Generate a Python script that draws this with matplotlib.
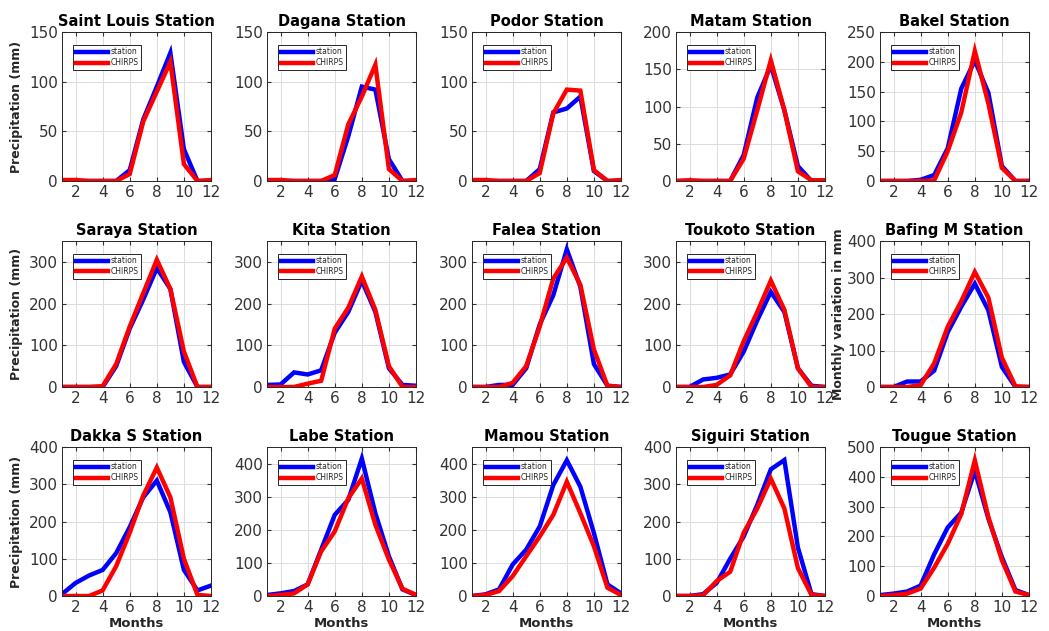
import numpy as np
import matplotlib.pyplot as plt

months = np.arange(1, 13)

titles = ["Saint Louis Station", "Dagana Station", "Podor Station", "Matam Station", "Bakel Station",
          "Saraya Station", "Kita Station", "Falea Station", "Toukoto Station", "Bafing M Station",
          "Dakka S Station", "Labe Station", "Mamou Station", "Siguiri Station", "Tougue Station"]

ymax = [150, 150, 150, 200, 250,
        350, 350, 350, 350, 400,
        400, 450, 450, 400, 500]

station = [
    [0, 0, 0, 0, 0, 11, 62, 95, 129, 32, 0, 0],
    [0, 0, 0, 0, 0, 2, 45, 95, 92, 22, 0, 0],
    [0, 0, 0, 0, 0, 12, 69, 73, 85, 10, 0, 0],
    [0, 0, 0, 0, 0, 35, 112, 155, 95, 20, 0, 0],
    [0, 0, 0, 2, 10, 55, 155, 202, 148, 25, 0, 0],
    [0, 0, 0, 0, 50, 140, 210, 285, 235, 60, 0, 0],
    [5, 6, 35, 30, 40, 130, 180, 255, 180, 45, 5, 3],
    [0, 0, 5, 5, 45, 150, 220, 330, 240, 55, 3, 0],
    [0, 0, 18, 22, 30, 85, 160, 228, 180, 45, 3, 0],
    [0, 0, 15, 15, 45, 150, 220, 283, 210, 55, 0, 0],
    [5, 35, 55, 70, 115, 185, 265, 310, 225, 70, 15, 28],
    [3, 8, 15, 35, 140, 245, 290, 415, 250, 120, 20, 3],
    [0, 5, 20, 95, 140, 210, 335, 410, 330, 190, 35, 8],
    [0, 0, 5, 35, 100, 160, 245, 340, 365, 130, 5, 0],
    [3, 8, 15, 35, 140, 230, 280, 420, 260, 130, 20, 3],
]

chirps = [
    [1, 1, 0, 0, 0, 7, 60, 90, 120, 17, 0, 1],
    [1, 1, 0, 0, 0, 6, 57, 85, 117, 12, 0, 1],
    [1, 1, 0, 0, 0, 8, 68, 92, 91, 11, 0, 1],
    [0, 1, 0, 0, 0, 30, 95, 162, 95, 13, 1, 1],
    [0, 0, 0, 0, 1, 50, 115, 218, 130, 22, 0, 0],
    [0, 0, 0, 2, 55, 145, 225, 305, 235, 85, 0, 0],
    [0, 0, 0, 8, 15, 140, 190, 265, 185, 50, 0, 0],
    [0, 0, 0, 10, 50, 145, 260, 310, 245, 90, 3, 0],
    [0, 0, 0, 5, 28, 110, 180, 255, 185, 45, 0, 0],
    [0, 0, 0, 5, 65, 165, 235, 315, 245, 80, 2, 0],
    [0, 0, 0, 15, 80, 170, 270, 345, 265, 100, 3, 0],
    [0, 3, 8, 35, 135, 195, 295, 355, 215, 110, 22, 3],
    [0, 3, 15, 60, 120, 180, 245, 345, 250, 150, 25, 3],
    [0, 0, 2, 40, 65, 170, 235, 315, 235, 75, 3, 0],
    [0, 3, 8, 25, 95, 175, 275, 455, 265, 120, 15, 3],
]

col_left = [62, 267, 472, 676, 880]
row_bottom = [181, 387, 596]
row_height = [149, 146, 149]
W, H = 1049, 631
dark = "#262626"

fig = plt.figure(figsize=(W / 100, H / 100), dpi=100)

for i, name in enumerate(titles):
    r, c = divmod(i, 5)
    ax = fig.add_axes([col_left[c] / W, 1 - row_bottom[r] / H, 149 / W, row_height[r] / H])
    ax.plot(months, station[i], color="#0000ff", lw=3.2, label="station", solid_joinstyle="miter")
    ax.plot(months, chirps[i], color="#ff0000", lw=3.2, label="CHIRPS", solid_joinstyle="miter")
    ax.set_xlim(1, 12)
    ax.set_ylim(0, ymax[i])
    ax.set_xticks([2, 4, 6, 8, 10, 12])
    step = 50 if ymax[i] <= 250 else 100
    ax.set_yticks(np.arange(0, ymax[i] + 1, step))
    ax.grid(True, color="#dcdcdc", lw=0.7)
    ax.set_axisbelow(True)
    ax.tick_params(direction="in", length=3, labelsize=11, colors="#333333", top=True, right=True, pad=3)
    for s in ax.spines.values():
        s.set_color(dark)
        s.set_linewidth(0.7)
    ax.set_title(name, fontsize=10.5, fontweight="bold", pad=4)
    leg = ax.legend(loc="upper left", fontsize=5.5, handlelength=4.2, handletextpad=0.3,
                    borderpad=0.35, labelspacing=0.25, fancybox=False, framealpha=1,
                    edgecolor=dark, bbox_to_anchor=(0.05, 0.94))
    leg.get_frame().set_linewidth(0.7)
    for t in leg.get_texts():
        t.set_color(dark)
    if c == 0:
        ax.set_ylabel("Precipitation (mm)", fontsize=9, fontweight="bold", color=dark)
    if i == 9:
        ax.set_ylabel("Monthly variation in mm", fontsize=9, fontweight="bold", color=dark, labelpad=1)
    if r == 2:
        ax.set_xlabel("Months", fontsize=9.5, fontweight="bold", color=dark, labelpad=1)

fig.savefig("out.png", dpi=100)
